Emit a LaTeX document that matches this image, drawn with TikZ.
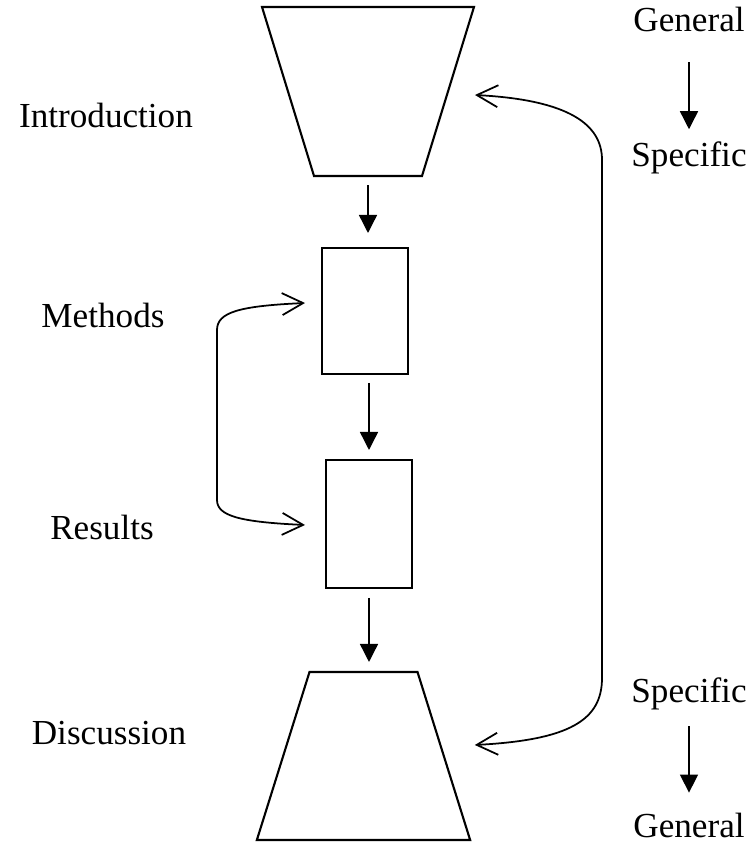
\documentclass[tikz,border=0pt]{standalone}
\usepackage{fontspec}
\setmainfont{Liberation Serif}
\usetikzlibrary{shapes.geometric,arrows.meta}
\tikzstyle{trap}=[trapezium, draw, inner xsep=1.08cm, minimum size=0pt,
                outer sep=0, line width=1.2pt]
\tikzstyle{blk}=[rectangle, draw, minimum width=1.72cm, inner sep=0,
                outer sep=0, line width=1.2pt]
\tikzstyle{lbl}=[inner sep=0, outer sep=0, font=\fontsize{20pt}{24pt}\selectfont]
\tikzstyle{flow}=[-{Triangle[width=0.36cm,length=0.36cm]}, line width=0.8pt]
\tikzstyle{bkt}=[{Straight Barb[length=0.42cm,width=0.44cm]}-{Straight Barb[length=0.42cm,width=0.44cm]},
                line width=1pt]

\begin{document}
\begin{tikzpicture}
\path[use as bounding box] (0,0) rectangle (14.98,16.86);
% the four parts of the paper
\node[trap, trapezium angle=72.9, shape border rotate=180, inner ysep=1.69cm] (intro) at (7.36,15.03) {};
\node[blk, minimum height=2.52cm] (meth) at (7.30,10.64) {};
\node[blk, minimum height=2.56cm] (res) at (7.38,6.38) {};
\node[trap, trapezium angle=72.6, inner ysep=1.68cm] (disc) at (7.27,1.74) {};
% names on the left
\node[lbl, anchor=base] (lintro) at (2.12,14.30) {Introduction};
\node[lbl, anchor=base] (lmeth) at (2.06,10.30) {Methods};
\node[lbl, anchor=base] (lres) at (2.04,6.06) {Results};
\node[lbl, anchor=base] (ldisc) at (2.18,1.96) {Discussion};
% general / specific on the right
\node[lbl, anchor=base] (gen1) at (13.78,16.22) {General};
\node[lbl, anchor=base] (spec1) at (13.78,13.52) {Specific};
\node[lbl, anchor=base] (spec2) at (13.78,2.80) {Specific};
\node[lbl, anchor=base] (gen2) at (13.78,0.10) {General};
\path[flow]
  (intro.south) edge[shorten <=0.18cm, shorten >=0.3cm] (intro.south |- meth.north)
  (meth.south -| res.north) edge[shorten <=0.18cm, shorten >=0.2cm] (res.north)
  (res.south) edge[shorten <=0.2cm, shorten >=0.2cm] (res.south |- disc.north)
  (gen1) edge[shorten <=0.6cm, shorten >=0.26cm] (spec1)
  (spec2) edge[shorten <=0.32cm, shorten >=0.42cm] (gen2);
%\draw (meth.west) -- (res.west);
\draw[bkt] ([shift={(-0.34,0.16)}]meth.west) .. controls +(-1.3,-0.06) and +(0,0.36) .. (4.34,10.26)
  -- (4.34,6.86) .. controls +(0,-0.32) and +(-1.3,0.06) .. ([shift={(-0.42,-0.02)}]res.west);
\draw[bkt] ([shift={(0.54,-0.07)}]intro.east) .. controls +(1.9,-0.1) and +(0,0.7) .. (12.04,13.66)
  -- (12.04,3.30) .. controls +(0,-0.84) and +(1.9,0.1) .. ([shift={(0.62,0.22)}]disc.east);
\end{tikzpicture}
\end{document}
